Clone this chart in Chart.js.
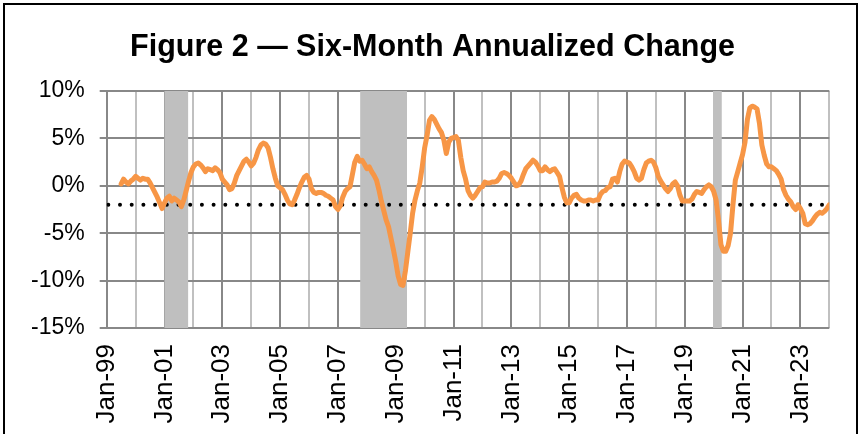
<!DOCTYPE html>
<html>
<head>
<meta charset="utf-8">
<script src="https://cdn.jsdelivr.net/npm/chart.js@4/dist/chart.umd.min.js"></script>
<style>
    body { margin: 0; background: #fff; }
    #wrap { position: relative; width: 861px; height: 434px; overflow: hidden; }
    #frame { position: absolute; left: 3px; top: 3px; width: 855px; height: 460px; border: 2px solid #000; box-sizing: border-box; pointer-events: none; }
    canvas { position: absolute; left: 0; top: 0; }
</style>
</head>
<body>
<div id="wrap">
    <canvas id="chart" width="861" height="434"></canvas>
    <div id="frame"></div>
</div>
<script>
// months are counted from Jan-99 (0) to Jan-24 (300)
var firstMonth = 6; // Jul-99
var changePct = [
    0.2, 0.7, 0.4, 0.2, 0.5, 0.7,                                        // 1999 H2
    1.0, 0.8, 0.6, 0.8, 0.7, 0.7, 0.3, -0.2, -0.7, -1.2, -1.8, -2.4,     // 2000
    -1.8, -1.3, -1.1, -1.6, -1.3, -1.5, -1.7, -2.2, -1.5, -0.5, 0.5, 1.4, // 2001
    2.0, 2.3, 2.4, 2.2, 1.9, 1.5, 1.8, 1.7, 1.6, 1.9, 1.7, 1.4,          // 2002
    0.7, 0.4, 0.1, -0.4, -0.3, 0.3, 1.1, 1.6, 2.1, 2.6, 2.8, 2.5,        // 2003
    2.1, 2.4, 3.0, 3.8, 4.3, 4.5, 4.4, 4.0, 3.0, 1.8, 0.8, 0.0,          // 2004
    -0.2, -0.4, -0.9, -1.5, -1.9, -2.0, -1.5, -0.9, -0.2, 0.4, 0.9, 1.1, // 2005
    0.7, -0.3, -0.7, -0.8, -0.7, -0.7, -0.8, -1.0, -1.1, -1.3, -1.5, -2.2, // 2006
    -2.5, -2.1, -1.2, -0.6, -0.3, -0.1, 1.2, 2.5, 3.1, 2.6, 2.7, 2.3,    // 2007
    1.8, 2.0, 1.5, 1.1, 0.6, -0.4, -1.6, -2.6, -3.6, -4.3, -5.5, -6.7,   // 2008
    -8.0, -9.5, -10.4, -10.5, -9.0, -7.0, -5.0, -2.9, -1.5, -0.5, 0.3, 2.0, // 2009
    4.0, 5.3, 6.9, 7.3, 7.0, 6.5, 6.0, 5.6, 4.8, 3.4, 4.6, 5.0,          // 2010
    5.1, 5.2, 4.8, 3.0, 1.6, 0.7, -0.5, -1.0, -1.3, -1.0, -0.6, -0.2,    // 2011
    -0.1, 0.4, 0.3, 0.3, 0.4, 0.4, 0.5, 0.8, 1.3, 1.4, 1.3, 1.1,         // 2012
    0.8, 0.4, 0.0, 0.1, 0.5, 1.2, 1.8, 2.1, 2.4, 2.7, 2.5, 2.1,          // 2013
    1.6, 1.6, 2.0, 1.7, 1.5, 1.7, 1.8, 1.4, 1.0, -0.2, -1.2, -1.8,       // 2014
    -1.8, -1.3, -1.0, -0.9, -1.3, -1.5, -1.6, -1.6, -1.5, -1.5, -1.6, -1.5, // 2015
    -1.5, -0.9, -0.6, -0.5, -0.2, -0.1, 0.7, 0.8, 0.4, 1.5, 2.3, 2.6,    // 2016
    2.5, 2.4, 2.0, 1.5, 0.8, 0.6, 0.8, 1.7, 2.4, 2.6, 2.7, 2.5,          // 2017
    1.9, 1.0, 0.5, 0.1, -0.3, -0.6, -0.3, 0.2, 0.4, 0.0, -1.0, -1.6,     // 2018
    -1.6, -1.6, -1.6, -1.4, -0.9, -0.6, -0.7, -0.8, -0.4, -0.1, 0.1, -0.1, // 2019
    -0.6, -1.5, -3.6, -6.2, -6.9, -6.9, -6.3, -5.0, -2.0, 0.6, 1.5, 2.4, // 2020
    3.3, 4.6, 7.0, 8.2, 8.4, 8.3, 8.1, 6.6, 4.3, 3.2, 2.3, 2.0,          // 2021
    2.0, 1.8, 1.6, 1.2, 0.7, -0.4, -1.0, -1.4, -1.7, -2.2, -2.5, -2.0,   // 2022
    -2.4, -2.9, -4.0, -4.1, -4.0, -3.7, -3.3, -3.0, -2.8, -2.9, -2.7, -2.4, // 2023
    -2.0                                                                 // 2024
];
var targetPct = -2;
// recession shading, in months from Jan-99
var recessionStart = [23.9, 105.2, 251.7];
var recessionEnd = [33.9, 124.7, 255.4];
var tickMonths = [0, 12, 24, 36, 48, 60, 72, 84, 96, 108, 120, 132, 144, 156, 168,
    180, 192, 204, 216, 228, 240, 252, 264, 276, 288, 300];
var tickLabels = ['Jan-99', '', 'Jan-01', '', 'Jan-03', '', 'Jan-05', '', 'Jan-07', '',
    'Jan-09', '', 'Jan-11', '', 'Jan-13', '', 'Jan-15', '', 'Jan-17', '', 'Jan-19', '',
    'Jan-21', '', 'Jan-23', ''];
var yMin = -15, yMax = 10;

var DARK = '#888888', LIGHT = '#c0c0c0';
var FONT = 'Arial, "Liberation Sans", sans-serif';

var points = changePct.map(function (v, i) { return { x: firstMonth + i, y: v }; });
var lastMonth = tickMonths[tickMonths.length - 1];

var datasets = [{
    data: points,
    borderColor: '#f79646',
    borderWidth: 5,
    borderJoinStyle: 'round',
    borderCapStyle: 'round',
    pointRadius: 0,
    tension: 0,
    order: 1
}, {
    data: [{ x: 0, y: targetPct }, { x: lastMonth, y: targetPct }],
    borderColor: '#000',
    borderWidth: 4,
    borderDash: [0, 11.7],
    borderDashOffset: -1.6,
    borderCapStyle: 'round',
    pointRadius: 0,
    order: 2
}];
recessionStart.forEach(function (s, i) {
    datasets.push({
        data: [{ x: s, y: yMax }, { x: recessionEnd[i], y: yMax }],
        borderWidth: 0,
        backgroundColor: '#bfbfbf',
        fill: { value: yMin },
        pointRadius: 0,
        order: 3
    });
});

new Chart(document.getElementById('chart'), {
    type: 'line',
    data: { datasets: datasets },
    options: {
        responsive: false,
        animation: false,
        devicePixelRatio: 1,
        layout: { padding: { left: 4, right: 0, top: 0, bottom: 0 } },
        plugins: {
            legend: { display: false },
            tooltip: { enabled: false },
            title: {
                display: true,
                text: 'Figure 2 \u2014 Six-Month Annualized Change',
                color: '#000',
                font: { family: FONT, size: 30.5, weight: 'bold', lineHeight: 1.2 },
                padding: { top: 29, bottom: 25.4 }
            }
        },
        scales: {
            x: {
                type: 'linear',
                min: 0,
                max: lastMonth,
                afterBuildTicks: function (scale) {
                    scale.ticks = tickMonths.map(function (m) { return { value: m }; });
                },
                afterFit: function (scale) {
                    scale.height = 106;
                    scale.paddingLeft = 0;
                    scale.paddingRight = 31.7;
                },
                grid: {
                    color: function (c) { return c.tick && c.tick.value % 24 === 0 ? DARK : LIGHT; },
                    lineWidth: 2,
                    drawTicks: false
                },
                border: { display: false },
                ticks: {
                    autoSkip: false,
                    maxRotation: 90,
                    minRotation: 90,
                    padding: 16,
                    color: '#000',
                    font: { family: FONT, size: 26 },
                    callback: function (v) { return tickLabels[tickMonths.indexOf(v)]; }
                }
            },
            y: {
                min: yMin,
                max: yMax,
                afterFit: function (scale) { scale.width = 102.7; },
                grid: {
                    color: function (c) { return c.tick && c.tick.value % 5 === 0 ? DARK : LIGHT; },
                    lineWidth: 2,
                    tickLength: 7,
                    tickColor: function (c) { return c.tick && c.tick.value % 5 === 0 ? DARK : 'rgba(0,0,0,0)'; }
                },
                border: { color: DARK, width: 2 },
                ticks: {
                    stepSize: 2.5,
                    padding: 15,
                    color: '#000',
                    font: { family: FONT, size: 23 },
                    callback: function (v) { return v % 5 === 0 ? v + '%' : ''; }
                }
            }
        }
    }
});
</script>
</body>
</html>
